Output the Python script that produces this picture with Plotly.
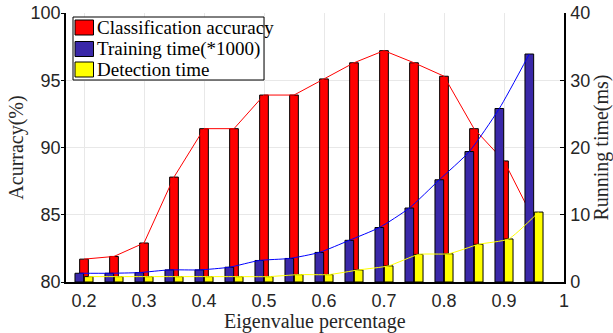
import plotly.graph_objects as go

# ---- data ----
eig_pct = [0.2, 0.25, 0.3, 0.35, 0.4, 0.45, 0.5, 0.55, 0.6, 0.65, 0.7, 0.75, 0.8, 0.85, 0.9, 0.95]
accuracy = [81.7, 81.9, 82.9, 87.8, 91.4, 91.4, 93.9, 93.9, 95.1, 96.3, 97.2, 96.3, 95.3, 91.4, 89.0, 84.6]
training_time = [1.3, 1.3, 1.4, 1.8, 1.8, 2.2, 3.2, 3.5, 4.4, 6.2, 8.1, 11.0, 15.2, 19.4, 25.8, 33.9]
detection_time = [0.8, 0.8, 0.8, 0.8, 0.8, 0.8, 0.8, 1.1, 1.1, 1.8, 2.4, 4.1, 4.2, 5.6, 6.4, 10.4]
x_ticks = [0.2, 0.3, 0.4, 0.5, 0.6, 0.7, 0.8, 0.9, 1.0]
x_ticklabels = ["0.2", "0.3", "0.4", "0.5", "0.6", "0.7", "0.8", "0.9", "1"]
legend_labels = ["Classification accuracy", "Training time(*1000)", "Detection time"]
x_title = "Eigenvalue percentage"

RED = "#ff0000"
BLUE = "#3a28a8"
YELLOW = "#ffff00"
BW = 0.0145      # bar width (x units)
SHIFT = 0.0078   # offset of side bars

serif = "Liberation Serif"
sans = "Liberation Sans"
txt = "#262626"

W, H = 613, 333
ML, MR, MT, MB = 66, 49, 13, 51
PW, PH = W - ML - MR, H - MT - MB


def px_x(p):
    return (p - ML) / PW


def px_y(p):
    return (H - MB - p) / PH


fig = go.Figure()

fig.add_trace(go.Bar(x=eig_pct, y=accuracy, width=BW, name=legend_labels[0], showlegend=False,
                     marker=dict(color=RED, line=dict(color="black", width=1)), yaxis="y"))
fig.add_trace(go.Scatter(x=eig_pct, y=accuracy, mode="lines", line=dict(color=RED, width=1),
                         showlegend=False, yaxis="y", hoverinfo="skip"))

fig.add_trace(go.Bar(x=eig_pct, y=training_time, width=BW, offset=-BW / 2 - SHIFT, name=legend_labels[1],
                     showlegend=False, marker=dict(color=BLUE, line=dict(color="black", width=1)), yaxis="y2"))
fig.add_trace(go.Bar(x=eig_pct, y=detection_time, width=BW, offset=-BW / 2 + SHIFT, name=legend_labels[2],
                     showlegend=False, marker=dict(color=YELLOW, line=dict(color="black", width=1)), yaxis="y2"))
fig.add_trace(go.Scatter(x=[v - SHIFT for v in eig_pct], y=training_time, mode="lines",
                         line=dict(color="#0000ff", width=1, shape="spline", smoothing=0.6),
                         showlegend=False, yaxis="y2", hoverinfo="skip"))
fig.add_trace(go.Scatter(x=[v + SHIFT for v in eig_pct], y=detection_time, mode="lines",
                         line=dict(color=YELLOW, width=1, shape="spline", smoothing=0.5),
                         showlegend=False, yaxis="y2", hoverinfo="skip"))

# ---- legend drawn as box + swatches + text ----
shapes = [dict(type="rect", xref="paper", yref="paper",
               x0=px_x(73), x1=px_x(264), y0=px_y(80), y1=px_y(17),
               fillcolor="white", line=dict(color="black", width=1), layer="above")]
annotations = []
row_centers = [27.5, 49, 69.5]
for lab, col, cy in zip(legend_labels, [RED, BLUE, YELLOW], row_centers):
    shapes.append(dict(type="rect", xref="paper", yref="paper",
                       x0=px_x(75), x1=px_x(93.5), y0=px_y(cy + 7.5), y1=px_y(cy - 7.5),
                       fillcolor=col, line=dict(color="black", width=1), layer="above"))
    annotations.append(dict(text=lab, xref="paper", yref="paper", x=px_x(95), y=px_y(cy),
                            xanchor="left", yanchor="middle", showarrow=False,
                            font=dict(family=serif, size=19, color="black")))

# x-axis title
annotations.append(dict(text=x_title, xref="paper", yref="paper", x=0.5, y=px_y(321.5),
                        xanchor="center", yanchor="middle", showarrow=False,
                        font=dict(family=serif, size=20, color=txt)))

fig.update_layout(
    width=W, height=H,
    margin=dict(l=ML, r=MR, t=MT, b=MB),
    paper_bgcolor="white", plot_bgcolor="white",
    barmode="overlay",
    showlegend=False,
    shapes=shapes, annotations=annotations,
    xaxis=dict(range=[0.17, 1.0], tickvals=x_ticks, ticktext=x_ticklabels, automargin=False,
               showgrid=True, gridcolor="#e8e8e8", gridwidth=1,
               showline=True, linecolor="black", linewidth=1.5, ticks="",
               tickfont=dict(family=sans, size=18, color=txt), ticklabelstandoff=2,
               zeroline=False),
    yaxis=dict(range=[80, 100], tickvals=[80, 85, 90, 95, 100], automargin=False,
               showgrid=True, gridcolor="#e8e8e8", gridwidth=1,
               showline=True, linecolor="black", linewidth=1.5, ticks="outside", ticklen=3, tickcolor="black",
               tickfont=dict(family=sans, size=18, color=txt), ticklabelstandoff=-3,
               title=dict(text="Acurracy(%)", font=dict(family=serif, size=20, color=txt), standoff=2),
               zeroline=False),
    yaxis2=dict(range=[0, 40], tickvals=[0, 10, 20, 30, 40], overlaying="y", side="right", automargin=False,
                showgrid=False, showline=True, linecolor="black", linewidth=1.5,
                ticks="inside", ticklen=4, tickcolor="black",
                tickfont=dict(family=sans, size=18, color=txt), ticklabelstandoff=1,
                title=dict(text="Running time(ms)", font=dict(family=serif, size=20, color=txt), standoff=2),
                zeroline=False),
)

fig.write_html("out.html")
